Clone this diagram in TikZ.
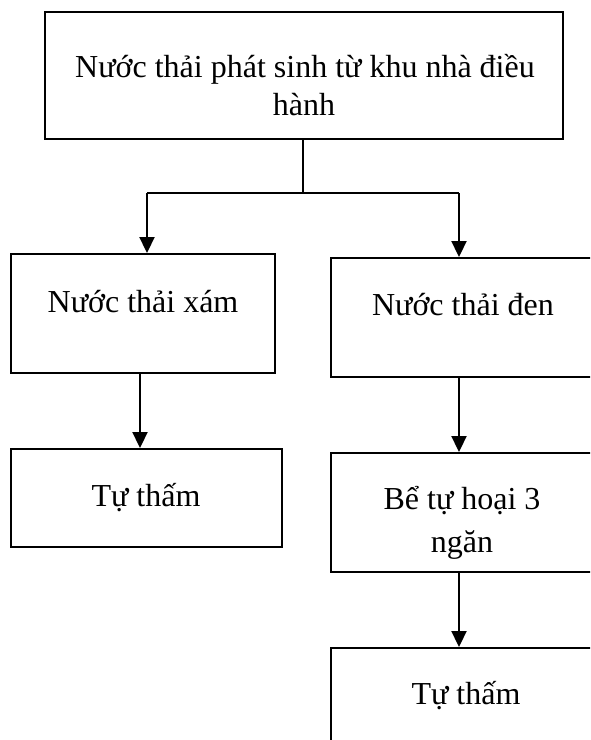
\documentclass[tikz,border=0pt]{standalone}
\usepackage{fontspec}
\setmainfont{Liberation Serif}
\usetikzlibrary{arrows.meta}
\begin{document}
\begin{tikzpicture}[x=1pt,y=-1pt,
  box/.style={draw=black,line width=1.9pt,inner sep=0pt,rectangle},
  lbl/.style={anchor=base,inner sep=0pt,font=\fontsize{32}{38}\selectfont},
  conn/.style={draw=black,line width=1.9pt},
  arr/.style={conn,-{Triangle[width=15pt,length=16pt]}}]
\useasboundingbox (0,0) rectangle (590,740);
\clip (0,0) rectangle (590,740);
% boxes
\node[box,minimum width=518pt,minimum height=127pt] (top) at (304,75.5) {};
\node[box,minimum width=264pt,minimum height=119pt] (xam) at (143,313.5) {};
\node[box,minimum width=264pt,minimum height=119pt] (den) at (463,317.5) {};
\node[box,minimum width=271pt,minimum height=98pt] (tt1) at (146.5,498) {};
\node[box,minimum width=264pt,minimum height=119pt] (be) at (463,512.5) {};
\node[box,minimum width=264pt,minimum height=112pt] (tt2) at (463,704) {};
% labels
\node[lbl] (t1) at (305,77) {Nước thải phát sinh từ khu nhà điều};
\node[lbl] (t2) at (304,115) {hành};
\node[lbl] (xamt) at (143,312) {Nước thải xám};
\node[lbl] (dent) at (463,315) {Nước thải đen};
\node[lbl] (tt1t) at (146,506) {Tự thấm};
\node[lbl] (bet1) at (462,509) {Bể tự hoại 3};
\node[lbl] (bet2) at (462,552) {ngăn};
\node[lbl] (tt2t) at (466,704) {Tự thấm};
% connectors
\coordinate (j) at (303,193);
\coordinate (jl) at (147,193);
\coordinate (jr) at (459,193);
\coordinate (cl) at (140,0);
\draw[conn] (top.south -| j) -- (j);
\draw[conn] (jl) -- (jr);
\draw[arr] (jl) -- (jl |- xam.north);
\draw[arr] (jr) -- (jr |- den.north);
\draw[arr] (xam.south -| cl) -- (tt1.north -| cl);
\draw[arr] (den.south -| jr) -- (be.north -| jr);
\draw[arr] (be.south -| jr) -- (tt2.north -| jr);
\end{tikzpicture}
\end{document}
